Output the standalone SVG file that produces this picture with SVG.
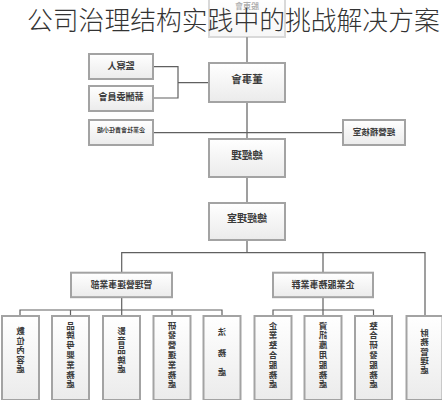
<svg xmlns="http://www.w3.org/2000/svg" width="442" height="400" viewBox="0 0 442 400">
<defs>
<linearGradient id="bg" x1="0" y1="0" x2="0" y2="1">
<stop offset="0" stop-color="#ffffff"/>
<stop offset="1" stop-color="#ebebeb"/>
</linearGradient>
</defs>
<style>
.b{fill:url(#bg);stroke:#a3a3a3;stroke-width:2}
.t{font-family:"Noto Sans CJK TC","Noto Sans CJK SC",sans-serif;font-weight:bold;fill:#3a3a3a;text-anchor:middle}
.c{fill:none;stroke:#606060;stroke-width:1.2}
.title{font-family:"Noto Sans CJK SC",sans-serif;font-weight:300;fill:#333;font-size:25.8px}
</style>
<rect width="442" height="400" fill="#ffffff"/>
<g id="connectors" class="c">
<path d="M247 37V63M247 102V139M247 177V203M247 240V252.7"/>
<path d="M153 66.7H178V98H153M178 82.7H209"/>
<path d="M153 132.7H343"/>
<path d="M121.7 272.7V252.7H425V316M323 252.7V272.7"/>
<path d="M121.7 297V316M20 316V310H222V316M70.5 310V316M172 310V316"/>
<path d="M323 297V316M273 316V310H373.5V316"/>
</g>
<g id="n-shareholders" opacity="0.4">
<rect class="b" x="209" y="-2" width="76" height="39"/>
<text class="t" font-size="8" transform="translate(247,9) scale(-1,1)">股東會</text>
</g>
<g id="n-supervisor"><rect class="b" x="89" y="54" width="64" height="25"/><text class="t" font-size="9" transform="translate(121,69) scale(-1,1)">監察人</text></g>
<g id="n-comp"><rect class="b" x="89" y="86" width="64" height="25"/><text class="t" font-size="9" transform="translate(121,100) scale(-1,1)">薪酬委員會</text></g>
<g id="n-board"><rect class="b" x="209" y="63" width="76" height="39"/><text class="t" font-size="10.5" transform="translate(247,83) scale(-1,1)">董事會</text></g>
<g id="n-csr"><rect class="b" x="89" y="120" width="64" height="25"/><text class="t" font-size="6" transform="translate(121,132) scale(-1,1)">企業社會責任小組</text></g>
<g id="n-audit"><rect class="b" x="343" y="120" width="62" height="25"/><text class="t" font-size="8.5" transform="translate(374,135) scale(-1,1)">經營稽核室</text></g>
<g id="n-gm"><rect class="b" x="209" y="139" width="76" height="38"/><text class="t" font-size="10.5" transform="translate(247,159) scale(-1,1)">總經理</text></g>
<g id="n-gmo"><rect class="b" x="209" y="203" width="76" height="37"/><text class="t" font-size="10" transform="translate(247,222) scale(-1,1)">總經理室</text></g>
<g id="n-left"><rect class="b" x="71" y="272.7" width="101" height="24.5"/><text class="t" font-size="8.8" transform="translate(121.5,288) scale(-1,1)">管理營運事業部</text></g>
<g id="n-right"><rect class="b" x="273" y="272.7" width="100" height="24.5"/><text class="t" font-size="9" transform="translate(323,288) scale(-1,1)">企業服務事業群</text></g>
<g id="d1"><rect class="b" x="2" y="316" width="37" height="84"/><g transform="translate(20.5,0) scale(-1,1)"><text class="t" font-size="8.5"><tspan x="0" y="334">數</tspan><tspan x="0" y="343.6">位</tspan><tspan x="0" y="353.2">內</tspan><tspan x="0" y="362.8">容</tspan><tspan x="0" y="372.4">處</tspan></text></g></g>
<g id="d2"><rect class="b" x="52" y="316" width="37" height="84"/><g transform="translate(70.5,0) scale(-1,1)"><text class="t" font-size="8.5"><tspan x="0" y="328.5">品</tspan><tspan x="0" y="338.3">牌</tspan><tspan x="0" y="348.1">母</tspan><tspan x="0" y="357.9">嬰</tspan><tspan x="0" y="367.7">業</tspan><tspan x="0" y="377.5">務</tspan><tspan x="0" y="387.3">處</tspan></text></g></g>
<g id="d3"><rect class="b" x="103" y="316" width="37" height="84"/><g transform="translate(121.5,0) scale(-1,1)"><text class="t" font-size="8.5"><tspan x="0" y="334">影</tspan><tspan x="0" y="343.6">音</tspan><tspan x="0" y="353.2">品</tspan><tspan x="0" y="362.8">牌</tspan><tspan x="0" y="372.4">處</tspan></text></g></g>
<g id="d4"><rect class="b" x="153.5" y="316" width="37" height="84"/><g transform="translate(172,0) scale(-1,1)"><text class="t" font-size="8.5"><tspan x="0" y="328.5">研</tspan><tspan x="0" y="338.3">發</tspan><tspan x="0" y="348.1">營</tspan><tspan x="0" y="357.9">運</tspan><tspan x="0" y="367.7">業</tspan><tspan x="0" y="377.5">務</tspan><tspan x="0" y="387.3">處</tspan></text></g></g>
<g id="d5"><rect class="b" x="203.5" y="316" width="37" height="84"/><g transform="translate(222,0) scale(-1,1)"><text class="t" font-size="8.5"><tspan x="0" y="335">法</tspan><tspan x="0" y="356">務</tspan><tspan x="0" y="375">處</tspan></text></g></g>
<g id="d6"><rect class="b" x="254.5" y="316" width="37" height="84"/><g transform="translate(273,0) scale(-1,1)"><text class="t" font-size="8.5"><tspan x="0" y="328.5">企</tspan><tspan x="0" y="338.3">業</tspan><tspan x="0" y="348.1">整</tspan><tspan x="0" y="357.9">合</tspan><tspan x="0" y="367.7">服</tspan><tspan x="0" y="377.5">務</tspan><tspan x="0" y="387.3">處</tspan></text></g></g>
<g id="d7"><rect class="b" x="304.5" y="316" width="37" height="84"/><g transform="translate(323,0) scale(-1,1)"><text class="t" font-size="8.5"><tspan x="0" y="328.5">資</tspan><tspan x="0" y="338.3">訊</tspan><tspan x="0" y="348.1">應</tspan><tspan x="0" y="357.9">用</tspan><tspan x="0" y="367.7">服</tspan><tspan x="0" y="377.5">務</tspan><tspan x="0" y="387.3">處</tspan></text></g></g>
<g id="d8"><rect class="b" x="355" y="316" width="37" height="84"/><g transform="translate(373.5,0) scale(-1,1)"><text class="t" font-size="8.5"><tspan x="0" y="328.5">整</tspan><tspan x="0" y="338.3">合</tspan><tspan x="0" y="348.1">研</tspan><tspan x="0" y="357.9">發</tspan><tspan x="0" y="367.7">服</tspan><tspan x="0" y="377.5">務</tspan><tspan x="0" y="387.3">處</tspan></text></g></g>
<g id="d9"><rect class="b" x="406.5" y="316" width="36" height="84"/><g transform="translate(424.5,0) scale(-1,1)"><text class="t" font-size="8.5"><tspan x="0" y="336">財</tspan><tspan x="0" y="345.3">務</tspan><tspan x="0" y="354.6">管</tspan><tspan x="0" y="363.9">理</tspan><tspan x="0" y="373.2">處</tspan></text></g></g>
<text class="title" x="27" y="30">公司治理结构实践中的挑战解决方案</text>
</svg>
